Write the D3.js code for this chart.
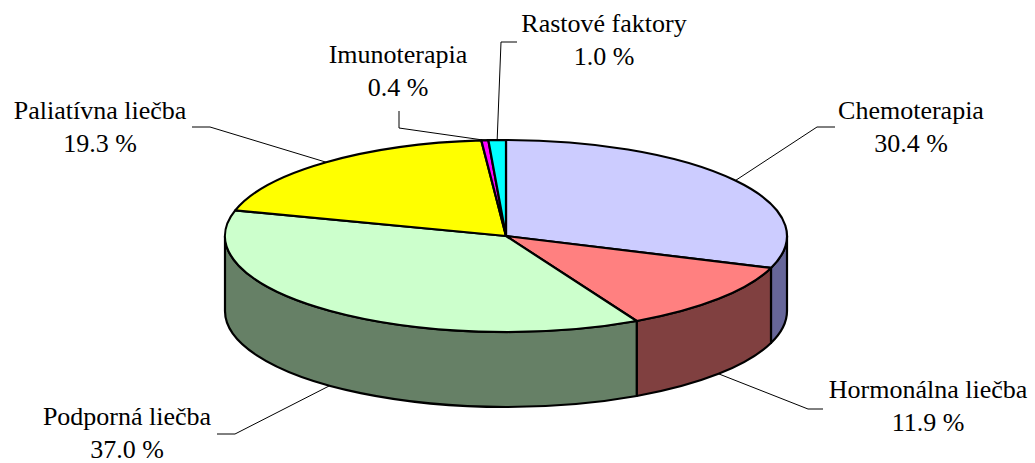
<!DOCTYPE html>
<html>
<head>
<meta charset="utf-8">
<script src="https://cdn.jsdelivr.net/npm/d3@7"></script>
<style>
  html, body { margin: 0; padding: 0; background: #fff; }
  svg { display: block; }
</style>
</head>
<body>
<svg id="chart" width="1035" height="463"></svg>
<script>
// ---- data ----
const categories = ["Chemoterapia", "Hormonálna liečba", "Podporná liečba", "Paliatívna liečba", "Imunoterapia", "Rastové faktory"];
const values = [30.4, 11.9, 37.0, 19.3, 0.4, 1.0];
const valueLabels = ["30.4 %", "11.9 %", "37.0 %", "19.3 %", "0.4 %", "1.0 %"];

// ---- styles / layout ----
const topColors  = ["#CCCCFF", "#FF8080", "#CCFFCC", "#FFFF00", "#FF00FF", "#00FFFF"];
const sideColors = ["#666699", "#804040", "#668066", "#808000", "#800080", "#008080"];
// label layout: text center x, first baseline y, elbow point, line end point
const labelLayout = [
  { tx: 911, ty: 119, elbow: [817, 127], end: [835, 127] },
  { tx: 928, ty: 398, elbow: [808, 409], end: [823, 409] },
  { tx: 127, ty: 425, elbow: [235, 434], end: [217, 434] },
  { tx: 100, ty: 119, elbow: [210, 127], end: [192, 127] },
  { tx: 398, ty: 63,  elbow: [399, 128], end: [399, 111] },
  { tx: 604, ty: 32,  elbow: [501, 42],  end: [517, 42] }
];
const fontFamily = "'Liberation Serif', 'Times New Roman', Times, serif";

const cx = 506, cy = 236, rx = 281, ry = 96, depth = 75;
const svg = d3.select("#chart");

const pie = d3.pie().sort(null).value(d => d).startAngle(0).endAngle(2 * Math.PI);
const arcs = pie(values);

const P = (a, dy = 0) => [cx + rx * Math.sin(a), cy - ry * Math.cos(a) + dy];
const pt = p => p[0].toFixed(2) + "," + p[1].toFixed(2);

// ---- side walls (front half only: angles PI/2 .. 3PI/2) ----
const sideG = svg.append("g");
arcs.forEach((d, i) => {
  const s = Math.max(d.startAngle, Math.PI / 2);
  const e = Math.min(d.endAngle, 3 * Math.PI / 2);
  if (e <= s) return;
  const path = "M" + pt(P(s)) +
    " A" + rx + "," + ry + " 0 0 1 " + pt(P(e)) +
    " L" + pt(P(e, depth)) +
    " A" + rx + "," + ry + " 0 0 0 " + pt(P(s, depth)) + " Z";
  sideG.append("path")
    .attr("d", path)
    .attr("fill", sideColors[i])
    .attr("stroke", "#000")
    .attr("stroke-width", 2.2)
    .attr("stroke-linejoin", "round");
});

// ---- top faces ----
const topG = svg.append("g");
arcs.forEach((d, i) => {
  const large = (d.endAngle - d.startAngle) > Math.PI ? 1 : 0;
  const path = "M" + cx + "," + cy +
    " L" + pt(P(d.startAngle)) +
    " A" + rx + "," + ry + " 0 " + large + " 1 " + pt(P(d.endAngle)) + " Z";
  topG.append("path")
    .attr("d", path)
    .attr("fill", topColors[i])
    .attr("stroke", "#000")
    .attr("stroke-width", 2.2)
    .attr("stroke-linejoin", "round");
});

// ---- leader lines & labels ----
const lblG = svg.append("g");
arcs.forEach((d, i) => {
  const mid = (d.startAngle + d.endAngle) / 2;
  const front = mid > Math.PI / 2 && mid < 3 * Math.PI / 2;
  const anchor = P(mid, front ? depth : 0);
  const L = labelLayout[i];
  lblG.append("polyline")
    .attr("points", [anchor, L.elbow, L.end].map(pt).join(" "))
    .attr("fill", "none")
    .attr("stroke", "#000")
    .attr("stroke-width", 1);
  const t = lblG.append("text")
    .attr("text-anchor", "middle")
    .attr("font-family", fontFamily)
    .attr("font-size", 26)
    .attr("fill", "#000");
  t.append("tspan").attr("x", L.tx).attr("y", L.ty).text(categories[i]);
  t.append("tspan").attr("x", L.tx).attr("y", L.ty + 33).text(valueLabels[i]);
});
</script>
</body>
</html>
